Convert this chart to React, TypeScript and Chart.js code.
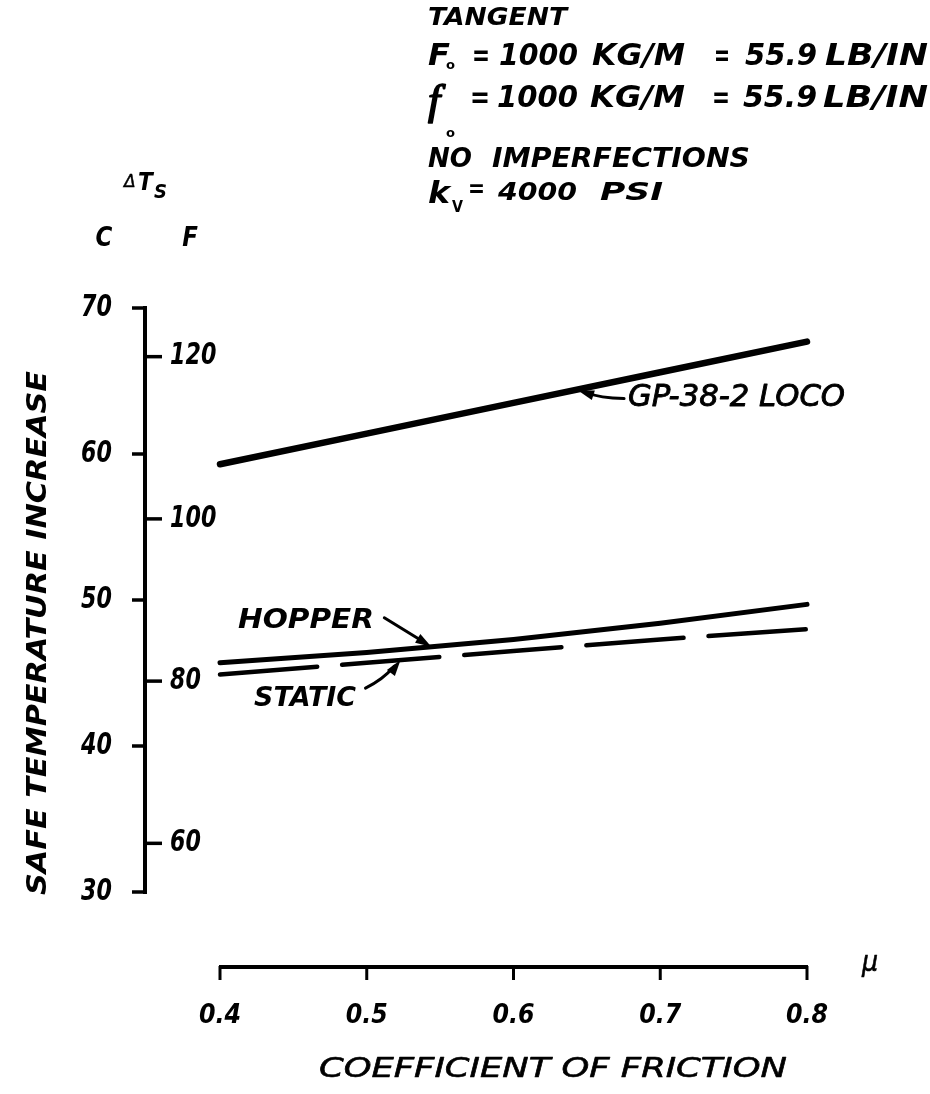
import React, { useEffect, useRef } from "react";
import { Chart, registerables } from "chart.js";

Chart.register(...registerables);

// ---- data ----
const MU = [0.4, 0.5, 0.6, 0.7, 0.8];
const LOCO = [59.3, 61.4, 63.5, 65.6, 67.7];
const HOPPER = [45.7, 46.4, 47.3, 48.4, 49.7];
const STATIC = [44.9, 45.7, 46.5, 47.3, 48.0];

const C_TICKS = [30, 40, 50, 60, 70];
const C_TICK_LABELS = ["30", "40", "50", "60", "70"];
const F_TICKS = [60, 80, 100, 120];
const F_TICK_LABELS = ["60", "80", "100", "120"];
const X_TICKS = [0.4, 0.5, 0.6, 0.7, 0.8];
const X_TICK_LABELS = ["0.4", "0.5", "0.6", "0.7", "0.8"];

const SERIES_LABELS = ["GP-38-2 LOCO", "HOPPER", "STATIC"];
const ARROW_MU = [0.644, 0.544, 0.523];

const Y_TITLE = "SAFE TEMPERATURE INCREASE";
const X_TITLE = "COEFFICIENT OF FRICTION";

const FAM = '"DejaVu Sans"';

function valueAt(series: number[], mu: number) {
  for (let i = 0; i < MU.length - 1; i++) {
    if (mu >= MU[i] && mu <= MU[i + 1]) {
      const t = (mu - MU[i]) / (MU[i + 1] - MU[i]);
      return series[i] + t * (series[i + 1] - series[i]);
    }
  }
  return series[series.length - 1];
}

function fitText(
  ctx: CanvasRenderingContext2D,
  text: string,
  x0: number,
  x1: number,
  base: number,
  font: string,
  thicken = 0
) {
  ctx.save();
  ctx.font = font;
  ctx.textAlign = "left";
  ctx.textBaseline = "alphabetic";
  const w = ctx.measureText(text).width;
  ctx.translate(x0, base);
  ctx.scale((x1 - x0) / w, 1);
  ctx.fillText(text, 0, 0);
  if (thicken > 0) {
    ctx.lineWidth = thicken;
    ctx.lineJoin = "round";
    ctx.strokeText(text, 0, 0);
  }
  ctx.restore();
}

function scaledText(
  ctx: CanvasRenderingContext2D,
  text: string,
  x: number,
  y: number,
  font: string,
  sx: number,
  align: CanvasTextAlign,
  baseline: CanvasTextBaseline,
  thicken = 0
) {
  ctx.save();
  ctx.font = font;
  ctx.textAlign = align;
  ctx.textBaseline = baseline;
  ctx.translate(x, y);
  ctx.scale(sx, 1);
  ctx.fillText(text, 0, 0);
  if (thicken > 0) {
    ctx.lineWidth = thicken;
    ctx.lineJoin = "round";
    ctx.strokeText(text, 0, 0);
  }
  ctx.restore();
}

function seg(ctx: CanvasRenderingContext2D, x0: number, y0: number, x1: number, y1: number) {
  ctx.beginPath();
  ctx.moveTo(x0, y0);
  ctx.lineTo(x1, y1);
  ctx.stroke();
}

function arrowHead(ctx: CanvasRenderingContext2D, tx: number, ty: number, fx: number, fy: number, len: number, half: number) {
  const a = Math.atan2(ty - fy, tx - fx);
  const bx = tx - Math.cos(a) * len;
  const by = ty - Math.sin(a) * len;
  const nx = -Math.sin(a) * half;
  const ny = Math.cos(a) * half;
  ctx.beginPath();
  ctx.moveTo(tx, ty);
  ctx.lineTo(bx + nx, by + ny);
  ctx.lineTo(bx - nx, by - ny);
  ctx.closePath();
  ctx.fill();
}

const drawingPlugin = {
  id: "engineeringAxes",
  afterDraw(chart: any) {
    const ctx: CanvasRenderingContext2D = chart.ctx;
    const xs = chart.scales.x;
    const ys = chart.scales.y;
    const ca = chart.chartArea;
    ctx.save();
    ctx.fillStyle = "#000";
    ctx.strokeStyle = "#000";

    // ---- vertical (C / F) axis ----
    const ax = ca.left - 75;
    ctx.lineWidth = 4;
    ctx.lineCap = "butt";
    seg(ctx, ax, ys.getPixelForValue(70) - 2, ax, ys.getPixelForValue(30) + 2);
    ctx.lineWidth = 3.5;
    C_TICKS.forEach((c) => {
      const y = ys.getPixelForValue(c);
      seg(ctx, ax - 13, y, ax + 1, y);
    });
    F_TICKS.forEach((f) => {
      const y = ys.getPixelForValue(f / 1.8);
      seg(ctx, ax - 1, y, ax + 17, y);
    });
    const tickFont = `italic bold 30px ${FAM}`;
    C_TICKS.forEach((c, i) => {
      scaledText(ctx, C_TICK_LABELS[i], ax - 33, ys.getPixelForValue(c), tickFont, 0.74, "right", "middle");
    });
    F_TICKS.forEach((f, i) => {
      scaledText(ctx, F_TICK_LABELS[i], ax + 25, ys.getPixelForValue(f / 1.8), tickFont, 0.74, "left", "middle");
    });

    // ---- horizontal (mu) axis ----
    const by = ca.bottom + 75;
    ctx.lineWidth = 4;
    seg(ctx, xs.getPixelForValue(0.4) - 1, by, xs.getPixelForValue(0.8) + 1, by);
    ctx.lineWidth = 3;
    X_TICKS.forEach((v) => {
      const x = xs.getPixelForValue(v);
      seg(ctx, x, by - 1, x, by + 13);
    });
    X_TICKS.forEach((v, i) => {
      scaledText(ctx, X_TICK_LABELS[i], xs.getPixelForValue(v), by + 56, `italic bold 27px ${FAM}`, 0.88, "center", "alphabetic");
    });
    scaledText(ctx, "\u03BC", xs.getPixelForValue(0.8) + 55, by + 4, `italic 28px ${FAM}`, 0.9, "left", "alphabetic", 0.6);

    // axis titles
    fitText(ctx, X_TITLE, 319, 787, by + 110, `italic 27px ${FAM}`, 0.6);
    ctx.save();
    ctx.translate(46, 633);
    ctx.rotate(-Math.PI / 2);
    fitText(ctx, Y_TITLE, -262, 262, 0, `italic bold 27px ${FAM}`);
    ctx.restore();

    // delta Ts, C, F headers
    scaledText(ctx, "\u0394", 124, 187, `italic 17px ${FAM}`, 1, "left", "alphabetic", 0.5);
    scaledText(ctx, "T", 138, 190, `italic bold 24px ${FAM}`, 0.9, "left", "alphabetic");
    scaledText(ctx, "S", 154, 198, `italic bold 20px ${FAM}`, 0.9, "left", "alphabetic");
    scaledText(ctx, "C", 104, 246, `italic bold 27px ${FAM}`, 0.85, "center", "alphabetic");
    scaledText(ctx, "F", 190, 246, `italic bold 27px ${FAM}`, 0.85, "center", "alphabetic");

    // ---- top annotation block ----
    const b30 = `italic bold 30px ${FAM}`;
    fitText(ctx, "TANGENT", 428, 567, 25, `italic bold 25px ${FAM}`);
    fitText(ctx, "F", 428, 450, 65, b30);
    fitText(ctx, "o", 446, 455, 69, `bold 13px ${FAM}`);
    const rest: [string, number, number][] = [
      ["=", 472, 490],
      ["1000", 499, 578],
      ["KG/M", 592, 685],
      ["=", 714, 730],
      ["55.9", 745, 817],
      ["LB/IN", 825, 928],
    ];
    rest.forEach(([t, x0, x1]) => fitText(ctx, t, x0, x1, 65, b30));
    scaledText(ctx, "f", 428, 114, `italic 42px "Liberation Serif"`, 1.05, "left", "alphabetic", 1.6);
    fitText(ctx, "o", 446, 455, 137, `bold 13px ${FAM}`);
    rest.forEach(([t, x0, x1]) => fitText(ctx, t, x0 - 2, x1, 107, b30));
    fitText(ctx, "NO", 428, 472, 167, `italic bold 27px ${FAM}`);
    fitText(ctx, "IMPERFECTIONS", 492, 750, 167, `italic bold 27px ${FAM}`);
    fitText(ctx, "k", 428, 450, 203, `italic bold 30px ${FAM}`);
    fitText(ctx, "V", 452, 463, 212, `bold 15px ${FAM}`);
    fitText(ctx, "=", 468, 485, 197, `italic bold 24px ${FAM}`);
    fitText(ctx, "4000", 498, 577, 200, `italic bold 24px ${FAM}`);
    fitText(ctx, "PSI", 600, 663, 200, `italic bold 24px ${FAM}`);

    // ---- series labels with arrows ----
    const series = [LOCO, HOPPER, STATIC];
    const tips = ARROW_MU.map((m, i) => ({
      x: xs.getPixelForValue(m),
      y: ys.getPixelForValue(valueAt(series[i], m)),
    }));
    ctx.lineWidth = 3;
    ctx.lineCap = "round";
    {
      const t = tips[0];
      ctx.beginPath();
      ctx.moveTo(t.x + 46, t.y + 9);
      ctx.quadraticCurveTo(t.x + 22, t.y + 9, t.x + 8, t.y + 3);
      ctx.stroke();
      arrowHead(ctx, t.x, t.y + 1, t.x + 22, t.y + 8, 16, 5);
      fitText(ctx, SERIES_LABELS[0], 628, 845, 406, `italic 30px ${FAM}`, 0.9);
    }
    {
      const t = tips[1];
      seg(ctx, t.x - 47, t.y - 29, t.x - 8, t.y - 5);
      arrowHead(ctx, t.x, t.y, t.x - 47, t.y - 29, 16, 5);
      fitText(ctx, SERIES_LABELS[1], 238, 374, 628, `italic bold 27px ${FAM}`);
    }
    {
      const t = tips[2];
      ctx.beginPath();
      ctx.moveTo(t.x - 35, t.y + 28);
      ctx.quadraticCurveTo(t.x - 18, t.y + 20, t.x - 6, t.y + 6);
      ctx.stroke();
      arrowHead(ctx, t.x, t.y, t.x - 12, t.y + 16, 16, 5);
      fitText(ctx, SERIES_LABELS[2], 254, 356, 706, `italic bold 27px ${FAM}`);
    }

    ctx.restore();
  },
};

export default function App() {
  const ref = useRef<HTMLCanvasElement>(null);
  useEffect(() => {
    const pts = (arr: number[]) => MU.map((x, i) => ({ x, y: arr[i] }));
    const chart = new Chart(ref.current as HTMLCanvasElement, {
      type: "line",
      data: {
        datasets: [
          {
            label: SERIES_LABELS[0],
            data: pts(LOCO),
            borderColor: "#000",
            borderWidth: 6.5,
            pointRadius: 0,
            borderCapStyle: "round",
            tension: 0,
            clip: false,
          } as any,
          {
            label: SERIES_LABELS[1],
            data: pts(HOPPER),
            borderColor: "#000",
            borderWidth: 5,
            pointRadius: 0,
            borderCapStyle: "round",
            tension: 0,
            clip: false,
          } as any,
          {
            label: SERIES_LABELS[2],
            data: pts(STATIC),
            borderColor: "#000",
            borderWidth: 4.5,
            pointRadius: 0,
            borderCapStyle: "round",
            borderDash: [97.5, 25],
            tension: 0,
            clip: false,
          } as any,
        ],
      },
      options: {
        responsive: false,
        animation: false,
        devicePixelRatio: 1,
        events: [],
        layout: { padding: { left: 220, right: 123, top: 308, bottom: 202 } },
        scales: {
          x: { type: "linear", min: 0.4, max: 0.8, display: false },
          y: { type: "linear", min: 30, max: 70, display: false },
        },
        plugins: { legend: { display: false }, tooltip: { enabled: false }, title: { display: false } },
      },
      plugins: [drawingPlugin],
    });
    return () => chart.destroy();
  }, []);
  return (
    <div style={{ position: "absolute", left: 0, top: 0, width: 930, height: 1094, background: "#fff" }}>
      <canvas ref={ref} width={930} height={1094} style={{ display: "block", width: 930, height: 1094 }} />
    </div>
  );
}
